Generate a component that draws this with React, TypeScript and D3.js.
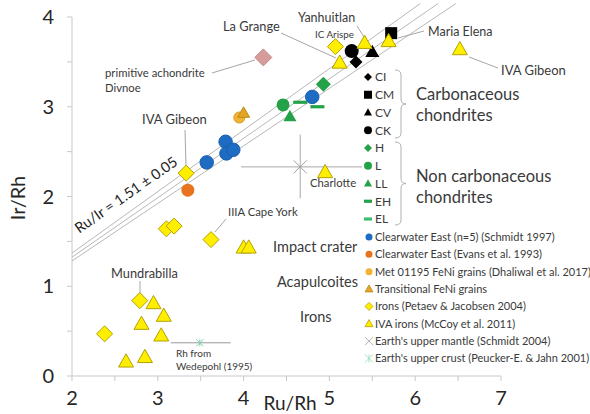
import React from "react";
import * as d3 from "d3";

const W = 590;
const H = 414;

// ---------- data (Ru/Rh, Ir/Rh) ----------
const ciPts = [[5.31, 3.5]];
const cmPts = [[5.72, 3.82]];
const cvPts = [[5.5, 3.61]];
const ckPts = [[5.26, 3.62]];
const hPts = [[4.93, 3.25]];
const lPts = [[4.46, 3.02]];
const llPts = [[4.54, 2.89]];
const ehPts = [[4.66, 3.05]];
const elPts = [[4.86, 3.0]];
const clearwaterSchmidt = [[3.57, 2.38], [3.79, 2.61], [3.8, 2.48], [3.88, 2.52], [4.8, 3.11]];
const clearwaterEvans = [[3.35, 2.07]];
const met01195 = [[3.95, 2.88]];
const transitional = [[4.0, 2.93]];
const divnoe = [[4.23, 3.55]];
const ironsPetaev = [[3.33, 2.26], [5.07, 3.67], [3.1, 1.64], [3.19, 1.67], [3.62, 1.52], [2.79, 0.84], [2.38, 0.47]];
const ivaIrons = [[5.41, 3.71], [5.69, 3.73], [5.12, 3.49], [6.52, 3.64], [4.95, 2.27], [4.0, 1.43], [4.06, 1.43], [2.95, 0.81], [3.07, 0.67], [2.81, 0.58], [3.04, 0.45], [2.63, 0.16], [2.85, 0.21]];
const upperMantle = [4.66, 2.33];
const upperMantleXErr = [3.97, 5.38];
const upperMantleYErr = [1.98, 2.69];
const upperCrust = [3.49, 0.37];
const upperCrustXErr = [3.15, 3.85];
const ruIrRatios = [1.46, 1.51, 1.56];
const xTicks = [2, 3, 4, 5, 6, 7];
const yTicks = [0, 1, 2, 3, 4];

const FONT = "Lato, 'Open Sans', sans-serif";
const YEL = "#ffee00";
const YEL_S = "#b3a200";
const BLUE = "#1d6cc2";
const ORANGE = "#e8741f";
const GOLD = "#f2b233";
const GOLD_T = "#e2a526";
const PINK = "#d69c9c";
const GREEN = "#23a249";
const GREEN_L = "#3cbf74";
const TXT = "#3a3a3a";

const x = d3.scaleLinear().domain([2, 7]).range([72, 501]);
const y = d3.scaleLinear().domain([0, 4]).range([376, 17]);

type Shape = "circle" | "square" | "diamond" | "triangle" | "dash" | "x" | "star";

function Marker({ shape, cx, cy, s, fill, stroke = "none", sw = 1 }: { shape: Shape; cx: number; cy: number; s: number; fill: string; stroke?: string; sw?: number }) {
  const h = s / 2;
  if (shape === "circle") return <circle cx={cx} cy={cy} r={h} fill={fill} stroke={stroke} strokeWidth={sw} />;
  if (shape === "square") return <rect x={cx - h} y={cy - h} width={s} height={s} fill={fill} stroke={stroke} strokeWidth={sw} />;
  if (shape === "diamond") {
    const p = d3.path();
    p.moveTo(cx, cy - h); p.lineTo(cx + h, cy); p.lineTo(cx, cy + h); p.lineTo(cx - h, cy); p.closePath();
    return <path d={p.toString()} fill={fill} stroke={stroke} strokeWidth={sw} />;
  }
  if (shape === "triangle") {
    const p = d3.path();
    p.moveTo(cx, cy - s * 0.52); p.lineTo(cx + h, cy + s * 0.36); p.lineTo(cx - h, cy + s * 0.36); p.closePath();
    return <path d={p.toString()} fill={fill} stroke={stroke} strokeWidth={sw} />;
  }
  if (shape === "dash") return <rect x={cx - h} y={cy - 1.6} width={s} height={3.2} fill={fill} />;
  if (shape === "x") {
    return (
      <g stroke={fill} strokeWidth={sw}>
        <line x1={cx - h} y1={cy - h} x2={cx + h} y2={cy + h} />
        <line x1={cx - h} y1={cy + h} x2={cx + h} y2={cy - h} />
      </g>
    );
  }
  return (
    <g stroke={fill} strokeWidth={sw}>
      <line x1={cx - h} y1={cy - h} x2={cx + h} y2={cy + h} />
      <line x1={cx - h} y1={cy + h} x2={cx + h} y2={cy - h} />
      <line x1={cx} y1={cy - h} x2={cx} y2={cy + h} />
    </g>
  );
}

function Series({ data, shape, s, fill, stroke, sw }: { data: number[][]; shape: Shape; s: number; fill: string; stroke?: string; sw?: number }) {
  return (
    <g>
      {data.map((d, i) => (
        <Marker key={i} shape={shape} cx={x(d[0])} cy={y(d[1])} s={s} fill={fill} stroke={stroke} sw={sw} />
      ))}
    </g>
  );
}

const upperLegend: { label: string; shape: Shape; s: number; fill: string }[] = [
  { label: "CI", shape: "diamond", s: 8, fill: "#000" },
  { label: "CM", shape: "square", s: 8, fill: "#000" },
  { label: "CV", shape: "triangle", s: 8, fill: "#000" },
  { label: "CK", shape: "circle", s: 8, fill: "#000" },
  { label: "H", shape: "diamond", s: 8, fill: GREEN },
  { label: "L", shape: "circle", s: 8, fill: GREEN },
  { label: "LL", shape: "triangle", s: 8, fill: GREEN },
  { label: "EH", shape: "dash", s: 8, fill: GREEN },
  { label: "EL", shape: "dash", s: 8, fill: GREEN_L },
];

const lowerLegend: { label: string; shape: Shape; s: number; fill: string; stroke?: string }[] = [
  { label: "Clearwater East (n=5) (Schmidt 1997)", shape: "circle", s: 7, fill: BLUE },
  { label: "Clearwater East (Evans et al. 1993)", shape: "circle", s: 7, fill: ORANGE },
  { label: "Met 01195 FeNi grains (Dhaliwal et al. 2017)", shape: "circle", s: 7, fill: GOLD },
  { label: "Transitional FeNi grains", shape: "triangle", s: 8, fill: GOLD_T, stroke: "#b88a20" },
  { label: "Irons (Petaev & Jacobsen 2004)", shape: "diamond", s: 8, fill: YEL, stroke: YEL_S },
  { label: "IVA irons (McCoy et al. 2011)", shape: "triangle", s: 8, fill: YEL, stroke: YEL_S },
  { label: "Earth's upper mantle (Schmidt 2004)", shape: "x", s: 8, fill: "#a0a0a0" },
  { label: "Earth's upper crust (Peucker-E. & Jahn 2001)", shape: "star", s: 8, fill: "#8fd8b8" },
];

const labels: { t: string; px: number; py: number; fs: number }[] = [
  { t: "La Grange", px: 223, py: 31, fs: 12.8 },
  { t: "primitive achondrite", px: 105, py: 77, fs: 11.3 },
  { t: "Divnoe", px: 105, py: 92, fs: 11.3 },
  { t: "IVA Gibeon", px: 142, py: 124, fs: 13 },
  { t: "Yanhuitlan", px: 298, py: 22, fs: 12.5 },
  { t: "IC Arispe", px: 315, py: 38, fs: 9.8 },
  { t: "Maria Elena", px: 428, py: 36, fs: 12.5 },
  { t: "IVA Gibeon", px: 501, py: 75, fs: 13 },
  { t: "Charlotte", px: 310, py: 187, fs: 11.3 },
  { t: "IIIA Cape York", px: 228, py: 216, fs: 11.3 },
  { t: "Mundrabilla", px: 111, py: 278, fs: 12.8 },
  { t: "Rh from", px: 176, py: 357, fs: 10 },
  { t: "Wedepohl (1995)", px: 176, py: 370, fs: 10 },
  { t: "Impact crater", px: 273, py: 252, fs: 14.5 },
  { t: "Acapulcoites", px: 277, py: 287, fs: 14.5 },
  { t: "Irons", px: 300, py: 322, fs: 14.5 },
];

const leaders: number[][] = [
  [281, 33, 336, 58],
  [212, 73, 255, 60],
  [185, 130, 186, 166],
  [357, 26, 364, 37],
  [424, 31, 398, 38],
  [469, 57, 498, 68],
  [226, 219, 215, 232],
  [140, 281, 140, 294],
];

function brace(top: number, bottom: number, bx: number) {
  const mid = (top + bottom) / 2;
  return `M${bx - 6},${top} Q${bx},${top} ${bx},${top + 5} V${mid - 5} Q${bx},${mid} ${bx + 5},${mid} Q${bx},${mid} ${bx},${mid + 5} V${bottom - 5} Q${bx},${bottom} ${bx - 6},${bottom}`;
}

export default function App() {
  const halfTicksX = d3.range(2, 7.01, 0.5);
  const halfTicksY = d3.range(0, 4.01, 0.5);
  const yTop = 4.15;
  return (
    <svg width={W} height={H} style={{ position: "absolute", left: 0, top: 0, background: "#fff" }} fontFamily={FONT}>
      {/* axes */}
      <g stroke="#c8c8c8" strokeWidth={1}>
        <line x1={x(2)} x2={x(7)} y1={y(0)} y2={y(0)} />
        <line x1={x(2)} x2={x(2)} y1={y(0)} y2={y(4)} />
        {halfTicksX.map((t) => (
          <line key={"xt" + t} x1={x(t)} x2={x(t)} y1={y(0)} y2={y(0) + 5} />
        ))}
        {halfTicksY.map((t) => (
          <line key={"yt" + t} x1={x(2) - 5} x2={x(2)} y1={y(t)} y2={y(t)} />
        ))}
      </g>
      {xTicks.map((t) => (
        <text key={"xl" + t} x={x(t)} y={405} textAnchor="middle" fontSize={20} fill="#262626">{t}</text>
      ))}
      {yTicks.map((t) => (
        <text key={"yl" + t} x={54} y={y(t) + 7} textAnchor="end" fontSize={20} fill="#262626">{t}</text>
      ))}
      <text x={290} y={410} textAnchor="middle" fontSize={19} fill="#262626">Ru/Rh</text>
      <text transform="translate(25,198) rotate(-90)" textAnchor="middle" fontSize={20} fill="#262626">Ir/Rh</text>

      {/* Ru/Ir reference lines */}
      <g stroke="#b8b8b8" strokeWidth={1} fill="none">
        {ruIrRatios.map((r) => (
          <line key={r} x1={x(2)} y1={y(2 / r)} x2={x(yTop * r)} y2={y(yTop)} />
        ))}
      </g>
      <text transform="translate(129,199) rotate(-35)" textAnchor="middle" fontSize={14.5} fill="#222">Ru/Ir = 1.51 ± 0.05</text>

      {/* leaders */}
      <g stroke="#a6a6a6" strokeWidth={1}>
        {leaders.map((l, i) => (
          <line key={i} x1={l[0]} y1={l[1]} x2={l[2]} y2={l[3]} />
        ))}
      </g>

      {/* error bars */}
      <g stroke="#a8a8a8" strokeWidth={1}>
        <line x1={x(upperMantleXErr[0])} x2={x(upperMantleXErr[1])} y1={y(upperMantle[1])} y2={y(upperMantle[1])} />
        <line x1={x(upperMantle[0])} x2={x(upperMantle[0])} y1={y(upperMantleYErr[0])} y2={y(upperMantleYErr[1])} />
      </g>
      <g stroke="#9a9a9a" strokeWidth={1}>
        <line x1={x(upperCrustXErr[0])} x2={x(upperCrustXErr[1])} y1={y(upperCrust[1])} y2={y(upperCrust[1])} />
      </g>
      <Marker shape="x" cx={x(upperMantle[0])} cy={y(upperMantle[1])} s={13} fill="#a0a0a0" sw={1} />
      <Marker shape="star" cx={x(upperCrust[0])} cy={y(upperCrust[1])} s={7} fill="#7fd0ac" sw={1} />

      {/* data */}
      <Series data={divnoe} shape="diamond" s={17} fill={PINK} stroke="#c48888" />
      <Series data={met01195} shape="circle" s={11} fill={GOLD} stroke="#d99a20" />
      <Series data={transitional} shape="triangle" s={12} fill={GOLD_T} stroke="#c08a1a" />
      <Series data={clearwaterEvans} shape="circle" s={13} fill={ORANGE} />
      <Series data={clearwaterSchmidt} shape="circle" s={13.5} fill={BLUE} stroke="#1a5fae" />
      <Series data={lPts} shape="circle" s={13} fill={GREEN} />
      <Series data={llPts} shape="triangle" s={13} fill={GREEN} />
      <Series data={ehPts} shape="dash" s={14} fill={GREEN} />
      <Series data={elPts} shape="dash" s={14} fill={GREEN} />
      <Series data={hPts} shape="diamond" s={15} fill={GREEN} />
      <Series data={ckPts} shape="circle" s={14} fill="#000" />
      <Series data={ciPts} shape="diamond" s={13} fill="#000" />
      <Series data={cvPts} shape="triangle" s={14} fill="#000" />
      <Series data={cmPts} shape="square" s={12} fill="#000" />
      <Series data={ironsPetaev} shape="diamond" s={16} fill={YEL} stroke={YEL_S} />
      <Series data={ivaIrons} shape="triangle" s={15} fill={YEL} stroke={YEL_S} />

      {/* annotations */}
      {labels.map((l, i) => (
        <text key={i} x={l.px} y={l.py} fontSize={l.fs} fill={TXT}>{l.t}</text>
      ))}

      {/* upper legend */}
      {upperLegend.map((e, i) => {
        const ly = 77 + i * 17.75;
        return (
          <g key={e.label}>
            <Marker shape={e.shape} cx={368} cy={ly} s={e.s} fill={e.fill} />
            <text x={375} y={ly + 4.3} fontSize={12} fill={TXT}>{e.label}</text>
          </g>
        );
      })}
      <g stroke="#b0b0b0" strokeWidth={1} fill="none">
        <path d={brace(70, 138, 401)} />
        <path d={brace(142, 225, 401)} />
      </g>
      <text x={416} y={100} fontSize={16.5} fill={TXT}>Carbonaceous</text>
      <text x={416} y={121} fontSize={16.5} fill={TXT}>chondrites</text>
      <text x={416} y={182} fontSize={16.5} fill={TXT}>Non carbonaceous</text>
      <text x={416} y={203} fontSize={16.5} fill={TXT}>chondrites</text>

      {/* lower legend */}
      {lowerLegend.map((e, i) => {
        const ly = 237 + i * 17.35;
        return (
          <g key={e.label}>
            <Marker shape={e.shape} cx={369} cy={ly} s={e.s} fill={e.fill} stroke={e.stroke} sw={0.8} />
            <text x={375} y={ly + 4} fontSize={11} fill={TXT}>{e.label}</text>
          </g>
        );
      })}
    </svg>
  );
}
